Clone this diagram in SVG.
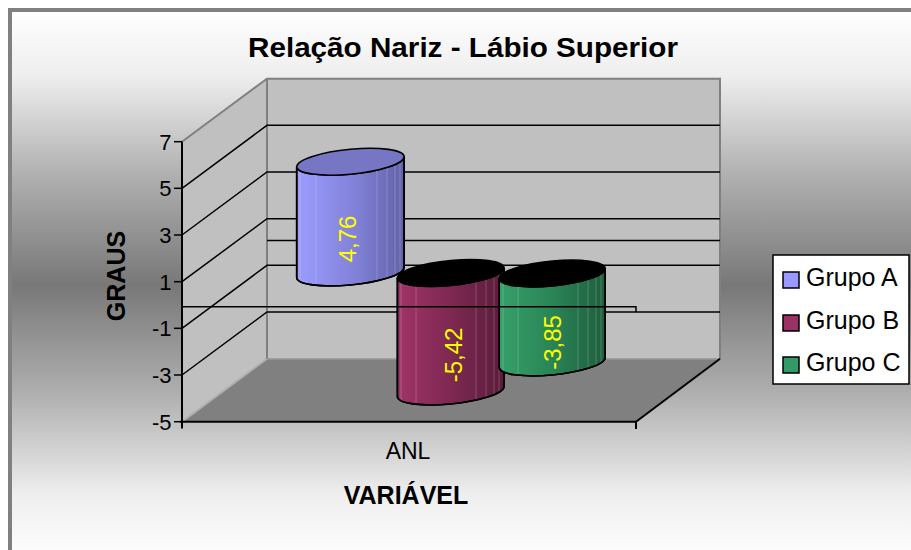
<svg xmlns="http://www.w3.org/2000/svg" width="911" height="550" viewBox="0 0 911 550">
  <defs>
    <linearGradient id="bgGrad" x1="0" y1="10" x2="0" y2="560" gradientUnits="userSpaceOnUse">
      <stop offset="0" stop-color="#ffffff"/>
      <stop offset="0.12" stop-color="#eeeeee"/>
      <stop offset="0.3" stop-color="#b0b0b0"/>
      <stop offset="0.5" stop-color="#787878"/>
      <stop offset="0.7" stop-color="#b0b0b0"/>
      <stop offset="0.88" stop-color="#eeeeee"/>
      <stop offset="1" stop-color="#ffffff"/>
    </linearGradient>
    <linearGradient id="gradA" x1="0" y1="0" x2="1" y2="0">
      <stop offset="0" stop-color="#9c9cff"/>
      <stop offset="0.5" stop-color="#8484dc"/>
      <stop offset="1" stop-color="#6262a8"/>
    </linearGradient>
    <linearGradient id="gradB" x1="0" y1="0" x2="1" y2="0">
      <stop offset="0" stop-color="#a03468"/>
      <stop offset="0.5" stop-color="#7e2852"/>
      <stop offset="1" stop-color="#5a1c3a"/>
    </linearGradient>
    <linearGradient id="gradC" x1="0" y1="0" x2="1" y2="0">
      <stop offset="0" stop-color="#36a06a"/>
      <stop offset="0.5" stop-color="#2a8456"/>
      <stop offset="1" stop-color="#1f5e3e"/>
    </linearGradient>
    <clipPath id="clipA"><path d="M296.7,161.7 V272.5 A53.7,12.5 0 0 0 404.1,272.5 V161.7 A53.7,12.5 0 0 1 296.7,161.7 Z"/></clipPath>
    <clipPath id="clipB"><path d="M397.4,273 V391.5 A53.3,12.5 0 0 0 504,391.5 V273 A53.3,12.5 0 0 1 397.4,273 Z"/></clipPath>
    <clipPath id="clipC"><path d="M499.2,273.5 V362.5 A53,12.5 0 0 0 605.2,362.5 V273.5 A53,12.5 0 0 1 499.2,273.5 Z"/></clipPath>
  </defs>
  <style>
    text { font-family: "Liberation Sans", Arial, sans-serif; fill: #000000; }
    .bold { font-weight: bold; }
    .tick { font-size: 22px; text-anchor: end; }
    .val { font-size: 24px; fill: #ffff00; text-anchor: middle; }
    .leg { font-size: 25px; }
    .wall { fill: #c0c0c0; }
    .edge { fill: none; stroke: #808080; stroke-width: 2; }
    .grid { fill: none; stroke: #000000; stroke-width: 1.5; }
    .axis { fill: none; stroke: #000000; stroke-width: 2; }
    .body { stroke: #000000; stroke-width: 1.6; stroke-linejoin: round; }
    .stripe { stroke: #ffffff; stroke-opacity: 0.2; stroke-width: 1; }
    .swatch { stroke: #000000; stroke-width: 1.5; }
  </style>

  <!-- chart area: frame and shaded background -->
  <rect x="0" y="0" width="911" height="550" fill="#ffffff"/>
  <rect id="chart-area" x="10" y="10" width="930" height="580" fill="url(#bgGrad)" stroke="#808080" stroke-width="4"/>

  <text id="title" class="bold" x="463" y="57.3" font-size="28" text-anchor="middle" textLength="430" lengthAdjust="spacingAndGlyphs">Relação Nariz - Lábio Superior</text>

  <!-- walls and floor -->
  <g id="plot-walls">
    <polygon class="wall" points="182,141.7 267,78.7 267,358.7 182,421.7"/>
    <rect class="wall" x="267" y="78.7" width="453" height="280"/>
    <polygon points="182,421.7 267,358.7 720,358.7 636,421.7" fill="#808080"/>
    <line x1="267" y1="358.7" x2="720" y2="358.7" stroke="#a0a0a0" stroke-width="1.5"/>
    <line x1="182" y1="421.7" x2="267" y2="358.7" stroke="#b0b0b0" stroke-width="2"/>
    <polyline class="edge" points="182,141.7 267,78.7 720,78.7 720,358.7"/>
    <line class="edge" x1="267" y1="78.7" x2="267" y2="358.7"/>
  </g>

  <!-- gridlines on side wall and back wall -->
  <g id="gridlines">
    <polyline class="grid" points="182,188.3 267,125.3 720,125.3"/>
    <polyline class="grid" points="182,235 267,172 720,172"/>
    <polyline class="grid" points="182,281.7 267,218.7 720,218.7"/>
    <polyline class="grid" points="182,328.3 267,265.3 720,265.3"/>
    <polyline class="grid" points="182,375 267,312 720,312"/>
    <line class="grid" x1="267" y1="240.5" x2="720" y2="240.5"/>
  </g>

  <!-- axes -->
  <g id="axes">
    <line class="axis" x1="182" y1="141.7" x2="182" y2="428.5"/>
    <line class="axis" x1="180" y1="421.7" x2="636" y2="421.7"/>
    <line class="axis" x1="636" y1="421.7" x2="720" y2="358.7"/>
    <line class="axis" x1="636" y1="421" x2="636" y2="429"/>
    <g stroke="#000000" stroke-width="1.5">
      <line x1="174" y1="141.7" x2="182" y2="141.7"/>
      <line x1="174" y1="188.3" x2="182" y2="188.3"/>
      <line x1="174" y1="235" x2="182" y2="235"/>
      <line x1="174" y1="281.7" x2="182" y2="281.7"/>
      <line x1="174" y1="328.3" x2="182" y2="328.3"/>
      <line x1="174" y1="375" x2="182" y2="375"/>
      <line x1="174" y1="421.7" x2="182" y2="421.7"/>
    </g>
    <text class="tick" x="171.5" y="149.5">7</text>
    <text class="tick" x="171.5" y="196.1">5</text>
    <text class="tick" x="171.5" y="242.8">3</text>
    <text class="tick" x="171.5" y="289.5">1</text>
    <text class="tick" x="171.5" y="336.1">-1</text>
    <text class="tick" x="171.5" y="382.8">-3</text>
    <text class="tick" x="171.5" y="429.5">-5</text>
  </g>

  <!-- series: Grupo B -->
  <g id="grupo-b" transform="matrix(1,-0.093,0,1,0,41.92)">
    <path class="body" fill="url(#gradB)" d="M397.4,273 V391.5 A53.3,12.5 0 0 0 504,391.5 V273 A53.3,12.5 0 0 1 397.4,273 Z"/>
    <g clip-path="url(#clipB)" class="stripe">
      <line x1="401" y1="270" x2="401" y2="410"/>
      <line x1="416" y1="270" x2="416" y2="410"/>
      <line x1="476" y1="270" x2="476" y2="410"/>
      <line x1="486" y1="270" x2="486" y2="410"/>
      <line x1="494" y1="270" x2="494" y2="410"/>
      <line x1="499" y1="270" x2="499" y2="410"/>
    </g>
    <path class="body" fill="url(#gradB)" fill-opacity="0" d="M397.4,273 V391.5 A53.3,12.5 0 0 0 504,391.5 V273"/>
    <ellipse class="body" cx="450.7" cy="273" rx="53.3" ry="12.5" fill="#000000"/>
  </g>

  <!-- series: Grupo C -->
  <g id="grupo-c" transform="matrix(1,-0.093,0,1,0,51.35)">
    <path class="body" fill="url(#gradC)" d="M499.2,273.5 V362.5 A53,12.5 0 0 0 605.2,362.5 V273.5 A53,12.5 0 0 1 499.2,273.5 Z"/>
    <g clip-path="url(#clipC)" class="stripe">
      <line x1="503" y1="270" x2="503" y2="380"/>
      <line x1="518" y1="270" x2="518" y2="380"/>
      <line x1="578" y1="270" x2="578" y2="380"/>
      <line x1="588" y1="270" x2="588" y2="380"/>
      <line x1="596" y1="270" x2="596" y2="380"/>
      <line x1="601" y1="270" x2="601" y2="380"/>
    </g>
    <path class="body" fill="none" d="M499.2,273.5 V362.5 A53,12.5 0 0 0 605.2,362.5 V273.5"/>
    <ellipse class="body" cx="552.2" cy="273.5" rx="53" ry="12.5" fill="#000000"/>
  </g>

  <!-- series: Grupo A -->
  <g id="grupo-a" transform="matrix(1,-0.093,0,1,0,32.59)">
    <path class="body" fill="url(#gradA)" d="M296.7,161.7 V272.5 A53.7,12.5 0 0 0 404.1,272.5 V161.7 A53.7,12.5 0 0 1 296.7,161.7 Z"/>
    <g clip-path="url(#clipA)" class="stripe">
      <line x1="300" y1="158" x2="300" y2="290"/>
      <line x1="316" y1="158" x2="316" y2="290"/>
      <line x1="377" y1="158" x2="377" y2="290"/>
      <line x1="387" y1="158" x2="387" y2="290"/>
      <line x1="395" y1="158" x2="395" y2="290"/>
      <line x1="400" y1="158" x2="400" y2="290"/>
    </g>
    <path class="body" fill="none" d="M296.7,161.7 V272.5 A53.7,12.5 0 0 0 404.1,272.5 V161.7"/>
    <ellipse class="body" cx="350.4" cy="161.7" rx="53.7" ry="12.5" fill="#7676c4"/>
  </g>

  <!-- zero line in front of the series -->
  <polyline id="zero-line" class="grid" points="182,306.7 636,306.7 636,312"/>

  <!-- data labels -->
  <g id="data-labels">
    <text class="val" transform="translate(356,239) rotate(-90)">4,76</text>
    <text class="val" transform="translate(461.5,355) rotate(-90)">-5,42</text>
    <text class="val" transform="translate(561,342.5) rotate(-90)">-3,85</text>
  </g>

  <!-- axis titles -->
  <text id="y-title" class="bold" font-size="25" text-anchor="middle" transform="translate(125,276) rotate(-90)">GRAUS</text>
  <text id="x-category" x="408" y="459" font-size="23" text-anchor="middle">ANL</text>
  <text id="x-title" class="bold" x="406" y="504" font-size="25" text-anchor="middle">VARIÁVEL</text>

  <!-- legend -->
  <g id="legend">
    <rect x="773" y="255" width="136" height="129" fill="#ffffff" stroke="#000000" stroke-width="1.5"/>
    <rect class="swatch" x="783" y="272" width="16" height="16" fill="#9999ff"/>
    <rect class="swatch" x="783" y="315" width="16" height="16" fill="#993366"/>
    <rect class="swatch" x="783" y="357" width="16" height="16" fill="#339966"/>
    <text class="leg" x="806" y="286">Grupo A</text>
    <text class="leg" x="806" y="329">Grupo B</text>
    <text class="leg" x="806" y="371">Grupo C</text>
  </g>
</svg>
